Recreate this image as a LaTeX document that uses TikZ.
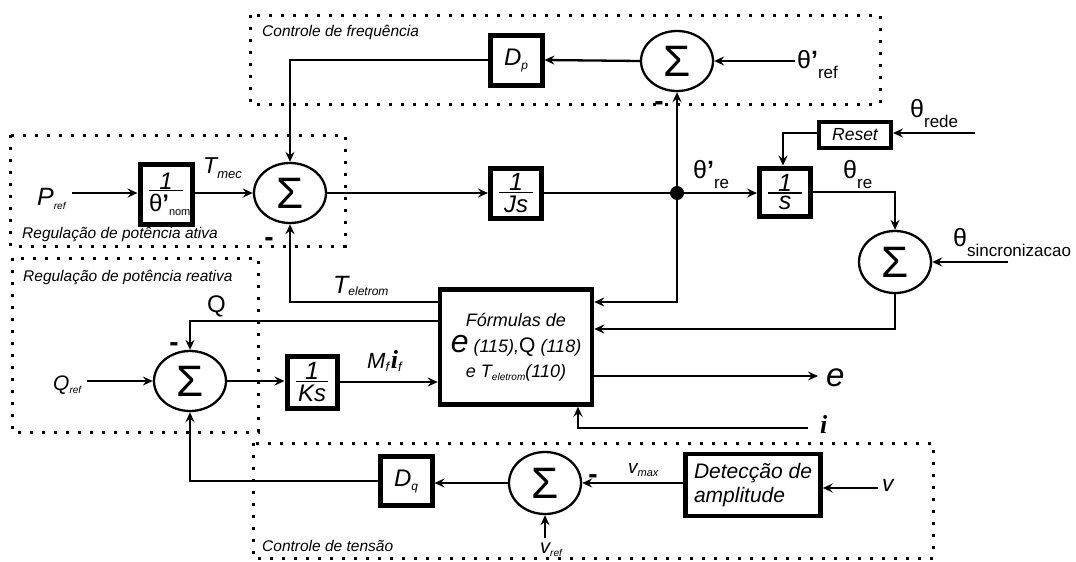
\documentclass[tikz,border=0pt]{standalone}
\usepackage{fontspec}
\setmainfont{Liberation Sans}
\newfontfamily\serifi{Liberation Serif}
\usetikzlibrary{arrows.meta,shapes.geometric,calc}
\newcommand{\fs}[1]{\fontsize{#1}{#1}\selectfont}
\newcommand{\fr}[3]{\vbox{\hbox to #3{\hfil #1\hfil}\kern1pt\hrule height 1.3pt\kern2.5pt\hbox to #3{\hfil #2\hfil}}}
\newcommand{\thl}[2]{{\fs{25}θ#1}\raisebox{-10pt}{\fs{17}#2}}
\begin{document}
\begin{tikzpicture}[x=1pt,y=-1pt,
  blk/.style={draw,line width=5pt,inner sep=0pt},
  sumn/.style={ellipse,draw,line width=2.3pt,inner sep=0pt,minimum width=72pt,minimum height=60pt,font=\fs{44}},
  ln/.style={line width=2.3pt},
  arr/.style={line width=2.3pt,-{Stealth[length=10pt,width=9pt,inset=3.5pt]}},
  dotbox/.style={line width=3pt,dash pattern=on 3pt off 9pt},
  lbl/.style={inner sep=0pt,anchor=base west},
  minus/.style={inner sep=0pt,font=\fs{28}\bfseries}]
\useasboundingbox (0,0) rectangle (1076,562);

% dotted regions
\draw[dotbox] (250,15) rectangle (880,104);
\draw[dotbox] (10,135) rectangle (345,246);
\draw[dotbox] (12,258) rectangle (258,432);
\draw[dotbox] (253,443) rectangle (933,558);
\node[lbl,font=\fs{15.5}\itshape] (tF) at (262,36) {Controle de frequência};
\node[lbl,font=\fs{15.5}\itshape] (tA) at (22,238) {Regulação de potência ativa};
\node[lbl,font=\fs{15.5}\itshape] (tR) at (23,281) {Regulação de potência reativa};
\node[lbl,font=\fs{15.5}\itshape] (tV) at (262,551) {Controle de tensão};

% blocks
\node[blk,minimum width=52pt,minimum height=60pt] (bnom) at (166,194)
  {\fr{\fs{24}\itshape 1}{{\fs{24}θ\textbf{’}}\raisebox{-4pt}{\fs{11}nom}}{34pt}};
\node[sumn] (sA) at (290,193) {Σ};
\node[blk,minimum width=51pt,minimum height=50pt] (bJ) at (516,193)
  {\fr{\fs{25}\itshape 1}{\fs{24}\itshape Js}{34pt}};
\coordinate (jn) at (677,193);
\node[blk,minimum width=51pt,minimum height=48pt] (bI) at (785,192)
  {\fr{\fs{25}\itshape 1}{\fs{25}\itshape s}{34pt}};
\node[sumn] (sF) at (677,61) {Σ};
\node[blk,minimum width=52pt,minimum height=50pt] (bDp) at (516,60)
  {{\fs{24}\itshape D}\raisebox{-4pt}{\fs{12}\itshape p}};
\node[blk,line width=4pt,minimum width=72pt,minimum height=26pt,font=\fs{17.5}\itshape] (bR) at (855,135) {Reset};
\node[sumn,minimum height=62pt] (sS) at (895,262) {Σ};
\node[blk,line width=4.5pt,minimum width=152pt,minimum height=115pt,align=center,font=\fontsize{18}{28}\selectfont] (bF) at (516,347)
  {{\itshape Fórmulas de}\\[-2pt]{\fs{32}\itshape e}{\itshape\ (115),}{\fs{21}Q}{\itshape\ (118)}\\[-3pt]{\itshape e T}\raisebox{-3pt}{\fs{10}\itshape eletrom}{\itshape(110)}};
\node[sumn] (sQ) at (190,381) {Σ};
\node[blk,minimum width=50pt,minimum height=52pt] (bK) at (312,382)
  {\fr{\fs{25}\itshape 1}{\fs{24}\itshape Ks}{32pt}};
\node[blk,minimum width=52pt,minimum height=49pt] (bDq) at (406,481)
  {{\fs{24}\itshape D}\raisebox{-4pt}{\fs{12}\itshape q}};
\node[sumn,minimum height=62pt] (sV) at (545,483) {Σ};
\node[blk,line width=4.5pt,minimum width=135pt,minimum height=62pt,align=left,font=\fontsize{21}{24}\selectfont\itshape] (bD) at (753,485) {Detecção de\\amplitude};

% coordinates
\coordinate (cT) at (0,302);
\coordinate (cQ) at (0,321);
\coordinate (cS) at (0,329);
\coordinate (pin) at (72,193);
\coordinate (tref) at (795,61);
\coordinate (trede) at (975,133);
\coordinate (rk) at (783,133);
\coordinate (tsync) at (1008,262);
\coordinate (eo) at (818,376);
\coordinate (ii) at (808,428);
\coordinate (ic) at (578,428);
\coordinate (qin) at (87,381);
\coordinate (vin) at (878,488);
\coordinate (vr) at (545,538);

% connectors
\draw[arr] (pin) -- (pin -| bnom.west);
\draw[arr] (bnom.east |- sA) -- (sA.west);
\draw[arr] (sA.east) -- (bJ.west);
\draw[ln] (bJ.east) -- (jn);
\draw[arr] (jn) -- (bI.west |- jn);
\draw[arr] (jn) -- (sF.south);
\draw[arr] (jn) -- (jn |- cT) -- (bF.east |- cT);
\fill (jn) circle (7pt);
\draw[arr] (bF.west |- cT) -- (sA.south |- cT) -- (sA.south);
\draw[arr] (bF.west |- cQ) -- (sQ.north |- cQ) -- (sQ.north);
\draw[arr] (sF.west) -- (bDp.east);
\draw[arr] (bDp.west) -- (sA.north |- bDp.west) -- (sA.north);
\draw[arr] (tref) -- (sF.east);
\draw[arr] (trede) -- (trede -| bR.east);
\draw[arr] (bR.west |- rk) -- (rk) -- (rk |- bI.north);
\draw[arr] (bI.east) -- (sS.north |- bI.east) -- (sS.north);
\draw[arr] (tsync) -- (sS.east);
\draw[arr] (sS.south) -- (sS.south |- cS) -- (bF.east |- cS);
\draw[arr] (bF.east |- eo) -- (eo);
\draw[arr] (ii) -- (ic) -- (ic |- bF.south);
\draw[arr] (qin) -- (sQ.west);
\draw[arr] (sQ.east) -- (bK.west |- sQ.east);
\draw[arr] (bK.east) -- (bK.east -| bF.west);
\draw[arr] (sV.west) -- (sV.west -| bDq.east);
\draw[arr] (bDq.west) -- (sQ.south |- bDq.west) -- (sQ.south);
\draw[arr] (bD.west |- sV) -- (sV.east);
\draw[arr] (vin) -- (vin -| bD.east);
\draw[arr] (vr) -- (sV.south);

% minus signs
\node[minus] (mA) at (269,242) {-};
\node[minus] (mF) at (659,106) {-};
\node[minus] (mQ) at (174,347) {-};
\node[minus] (mV) at (593,479) {-};

% labels
\node[lbl] (lP) at (37,205) {{\fs{25}\itshape P}\raisebox{-4pt}{\fs{10}\itshape ref}};
\node[lbl] (lTm) at (203,173) {{\fs{23}\itshape T}\raisebox{-5pt}{\fs{13}\itshape mec}};
\node[lbl] (lTe) at (333,293) {{\fs{25}\itshape T}\raisebox{-2pt}{\fs{12}\itshape eletrom}};
\node[lbl] (lQ) at (207,312) {\fs{24}Q};
\node[lbl] (lQr) at (53,390) {{\fs{21}\itshape Q}\raisebox{-3pt}{\fs{10}\itshape ref}};
\node[lbl] (lM) at (367,368) {{\fs{22}\itshape M}\raisebox{-3pt}{\fs{13}\itshape f}\,{\fs{26}\serifi\bfseries\itshape i}\raisebox{-3pt}{\fs{13}\itshape f}};
\node[lbl] (lre1) at (693,178) {\thl{\textbf{’}}{re}};
\node[lbl] (lre2) at (843,178) {\thl{}{re}};
\node[lbl] (lrede) at (910,117) {\thl{}{rede}};
\node[lbl] (lsync) at (953,246) {\thl{}{sincronizacao}};
\node[lbl] (lref) at (797,68) {\thl{\textbf{’}}{ref}};
\node[lbl] (le) at (826,386) {\fs{33}\itshape e};
\node[lbl] (li) at (820,433) {\fs{26}\serifi\bfseries\itshape i};
\node[lbl] (lv) at (882,491) {\fs{23}\itshape v};
\node[lbl] (lvm) at (628,473) {{\fs{19}\itshape v}\raisebox{-3pt}{\fs{11}\itshape max}};
\node[lbl] (lvr) at (540,553) {{\fs{20}\itshape v}\raisebox{-3pt}{\fs{10}\itshape ref}};
\end{tikzpicture}
\end{document}
